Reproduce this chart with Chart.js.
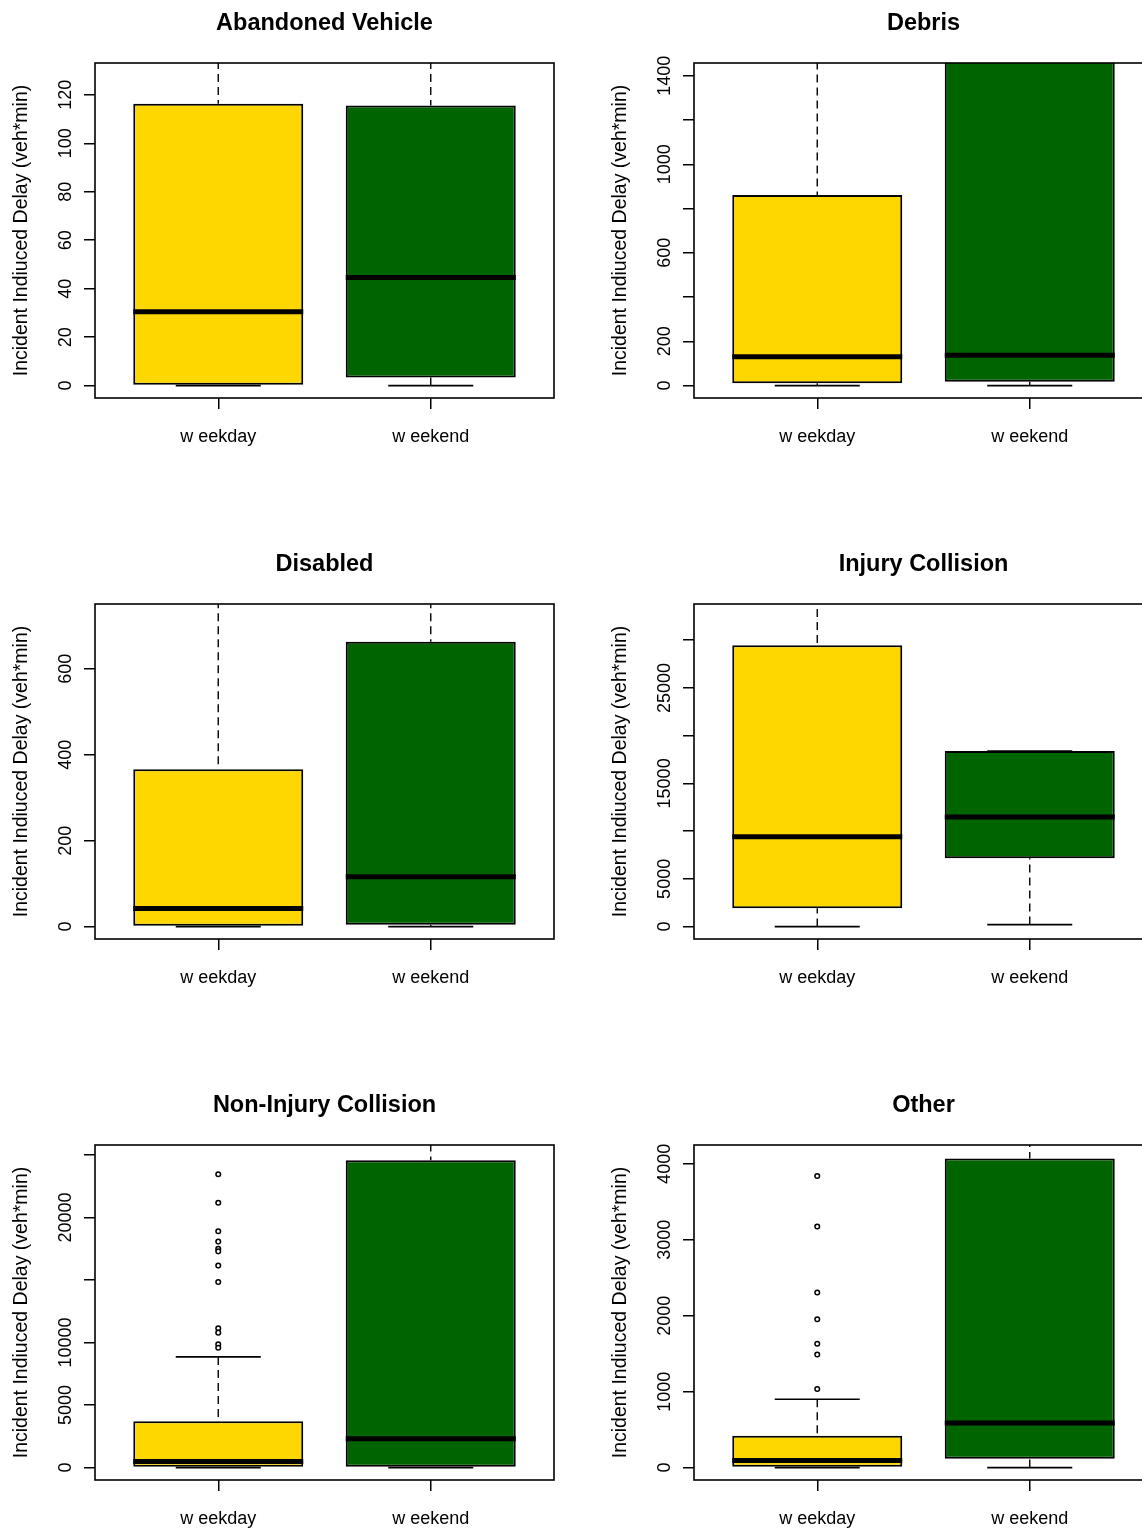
<!DOCTYPE html>
<html>
<head>
<meta charset="utf-8">
<script src="https://cdn.jsdelivr.net/npm/chart.js@4.4.0/dist/chart.umd.min.js"></script>
<style>
html,body{margin:0;padding:0;background:#fff;overflow:hidden;}
#wrap{position:relative;width:1142px;height:1529px;overflow:hidden;background:#fff;}
.panel{position:absolute;width:570px;height:541px;}
</style>
</head>
<body>
<div id="wrap"></div>
<script>
// ---------- data ----------
const groups = ['w eekday', 'w eekend'];
const panelTitles = ['Abandoned Vehicle', 'Debris', 'Disabled', 'Injury Collision', 'Non-Injury Collision', 'Other'];
const yAxisTitle = 'Incident Indiuced Delay (veh*min)';

// box statistics per panel, each entry = [weekday, weekend]
const lowWhisker  = [[0, 0], [0, 0], [0, 0], [0, 210], [0, 0], [0, 0]];
const q1          = [[0, 3.3], [11, 17], [0, 4], [1930, 7170], [0, 0], [0, 115]];
const median      = [[30.5, 44.6], [130, 137], [42, 116], [9420, 11470], [480, 2300], [93, 587]];
const q3          = [[116.3, 115.6], [861, 1650], [366, 663], [29460, 18380], [3700, 24580], [419, 4071]];
const highWhisker = [[150, 150], [1700, 1800], [820, 820], [36000, 18380], [8850, 28000], [900, 4500]];
const outliersWeekday = [[], [], [], [],
  [23450, 21180, 18900, 18070, 17490, 17290, 16150, 14840, 11140, 10790, 9860, 9580],
  [3840, 3175, 2305, 1954, 1630, 1490, 1036]];
const outliersWeekend = [[], [], [], [], [], []];

// axis ticks
const yTickValues = [
  [0, 20, 40, 60, 80, 100, 120],
  [0, 200, 400, 600, 800, 1000, 1200, 1400],
  [0, 200, 400, 600],
  [0, 5000, 10000, 15000, 20000, 25000, 30000],
  [0, 5000, 10000, 15000, 20000, 25000],
  [0, 1000, 2000, 3000, 4000]];
const yTickLabels = [
  ['0', '20', '40', '60', '80', '100', '120'],
  ['0', '200', '', '600', '', '1000', '', '1400'],
  ['0', '200', '400', '600'],
  ['0', '5000', '', '15000', '', '25000', ''],
  ['0', '5000', '10000', '', '20000', ''],
  ['0', '1000', '2000', '3000', '4000']];
// y limit used for each panel (axis is extended 4% on both sides)
const yLimit = [128, 1402, 722, 32490, 24800, 4085];

// ---------- styling ----------
const FONT = '"Liberation Sans", Arial, sans-serif';
const boxColors = ['#FFD700', '#006400'];
const xPos = [1, 2];

const framePlugin = {
  id: 'frame',
  afterDatasetsDraw(chart) {
    const { ctx, chartArea: a } = chart;
    ctx.save();
    ctx.strokeStyle = '#000';
    ctx.lineWidth = 1.6;
    ctx.strokeRect(a.left, a.top, a.right - a.left, a.bottom - a.top);
    ctx.restore();
  }
};

const measureCtx = document.createElement('canvas').getContext('2d');
measureCtx.font = '18px ' + FONT;

function buildPanel(p, left, top) {
  const div = document.createElement('div');
  div.className = 'panel';
  div.style.left = left + 'px';
  div.style.top = top + 'px';
  const canvas = document.createElement('canvas');
  canvas.width = 570; canvas.height = 541;
  div.appendChild(canvas);
  document.getElementById('wrap').appendChild(div);

  const boxData = xPos.map((x, i) => ({ x: x, y: [q1[p][i], q3[p][i]] }));
  const whisk = [], caps = [], meds = [];
  xPos.forEach((x, i) => {
    whisk.push({ x: x, y: lowWhisker[p][i] }, { x: x, y: q1[p][i] }, { x: x, y: null },
               { x: x, y: highWhisker[p][i] }, { x: x, y: q3[p][i] }, { x: x, y: null });
    caps.push({ x: x - 0.2, y: lowWhisker[p][i] }, { x: x + 0.2, y: lowWhisker[p][i] }, { x: x, y: null },
              { x: x - 0.2, y: highWhisker[p][i] }, { x: x + 0.2, y: highWhisker[p][i] }, { x: x, y: null });
    meds.push({ x: x - 0.4, y: median[p][i] }, { x: x + 0.4, y: median[p][i] }, { x: x, y: null });
  });
  const outs = outliersWeekday[p].map(v => ({ x: 1, y: v }))
    .concat(outliersWeekend[p].map(v => ({ x: 2, y: v })));

  const widest = Math.max(...yTickLabels[p].map(t => measureCtx.measureText(t).width));
  const yPad = 28.5 - 11 - widest / 2;
  const M = yLimit[p];

  new Chart(canvas, {
    type: 'bar',
    data: {
      datasets: [
        { type: 'bar', data: boxData, backgroundColor: boxColors, borderColor: '#000', borderWidth: 2,
          borderSkipped: false, barPercentage: 0.8, categoryPercentage: 1, order: 3, clip: 0 },
        { type: 'line', data: whisk, borderColor: '#000', borderWidth: 1.4, borderDash: [8, 5],
          pointRadius: 0, fill: false, spanGaps: false, order: 4, clip: 0 },
        { type: 'line', data: caps, borderColor: '#000', borderWidth: 1.6,
          pointRadius: 0, fill: false, spanGaps: false, order: 2, clip: 0 },
        { type: 'line', data: meds, borderColor: '#000', borderWidth: 5, borderCapStyle: 'butt',
          pointRadius: 0, fill: false, spanGaps: false, order: 1, clip: 0 },
        { type: 'scatter', data: outs, pointRadius: 2.3, borderWidth: 1.5, borderColor: '#000',
          backgroundColor: '#fff', order: 0, clip: 0 }
      ]
    },
    options: {
      responsive: false,
      animation: false,
      devicePixelRatio: 1,
      layout: { padding: { left: 0, right: 16, top: 0, bottom: 83 } },
      plugins: {
        legend: { display: false },
        tooltip: { enabled: false },
        title: {
          display: true, text: panelTitles[p], fullSize: false, color: '#000',
          font: { family: FONT, size: 23.5, weight: 'bold' },
          padding: { top: 9, bottom: 25.8 }
        }
      },
      scales: {
        x: {
          type: 'linear', min: 0.42, max: 2.58, offset: false,
          afterBuildTicks: s => { s.ticks = xPos.map(v => ({ value: v })); },
          afterFit: s => { s.height = 60; },
          grid: { display: true, offset: false, drawOnChartArea: false, drawTicks: true, tickLength: 11,
                  color: '#000', tickColor: '#000', lineWidth: 1.5 },
          border: { display: false },
          ticks: { callback: v => groups[v - 1], color: '#000', font: { family: FONT, size: 18 },
                   padding: 17, maxRotation: 0, minRotation: 0, autoSkip: false }
        },
        y: {
          type: 'linear', min: -0.04 * M, max: 1.04 * M,
          afterBuildTicks: s => { s.ticks = yTickValues[p].map(v => ({ value: v })); },
          afterFit: s => { s.width = 95; },
          grid: { display: true, offset: false, drawOnChartArea: false, drawTicks: true, tickLength: 11,
                  color: '#000', tickColor: '#000', lineWidth: 1.5 },
          border: { display: false },
          ticks: { callback: (v, i) => yTickLabels[p][i], color: '#000', font: { family: FONT, size: 18 },
                   minRotation: 90, maxRotation: 90, crossAlign: 'center', padding: yPad, autoSkip: false },
          title: { display: true, text: yAxisTitle, color: '#000', font: { family: FONT, size: 19.5 },
                   padding: { top: 10, bottom: 0 } }
        }
      }
    },
    plugins: [framePlugin]
  });
}

const colLeft = [0, 599];
const rowTop = [0, 541, 1082];
for (let p = 0; p < 6; p++) {
  buildPanel(p, colLeft[p % 2], rowTop[Math.floor(p / 2)]);
}
</script>
</body>
</html>
